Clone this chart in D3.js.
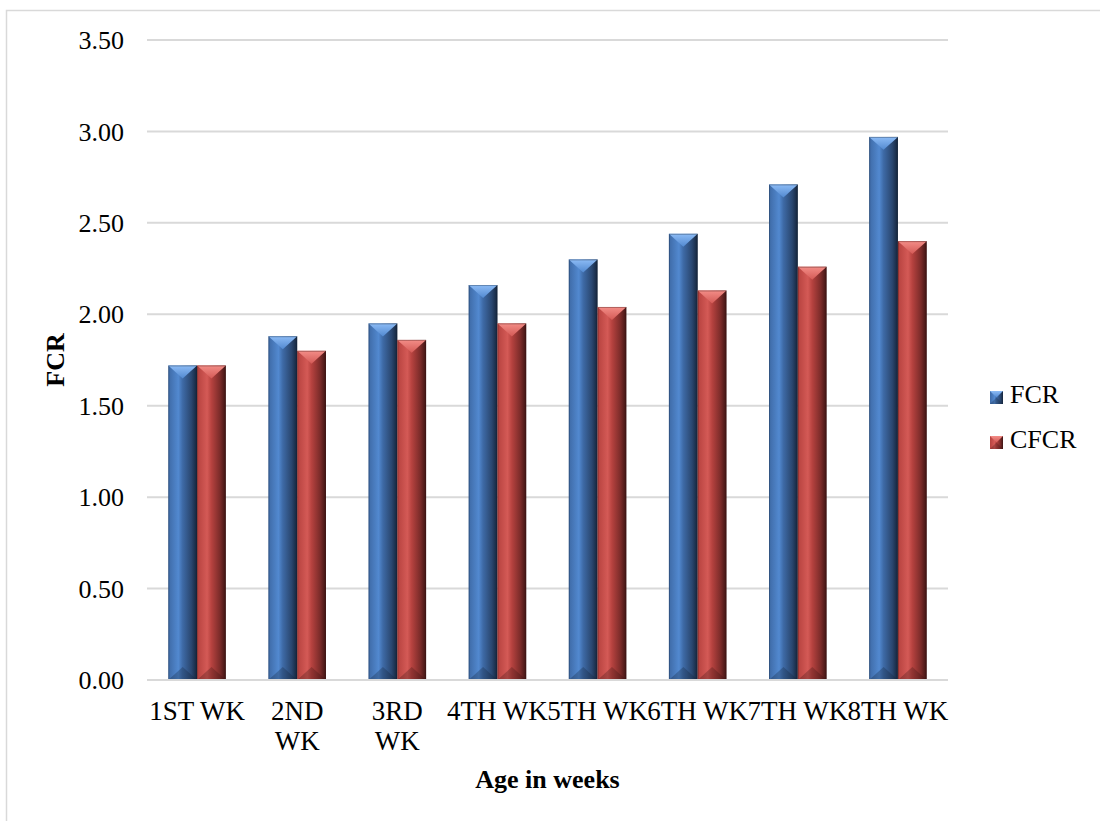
<!DOCTYPE html>
<html>
<head>
<meta charset="utf-8">
<script src="https://cdn.jsdelivr.net/npm/d3@7"></script>
<style>
  body { margin: 0; background: #fff; }
  svg { display: block; font-family: "Liberation Serif", "Times New Roman", serif; }
</style>
</head>
<body>
<svg id="chart" width="1100" height="821"></svg>
<script>
// data
const categories = ["1ST WK", "2ND\nWK", "3RD\nWK", "4TH WK", "5TH WK", "6TH WK", "7TH WK", "8TH WK"]
const fcr  = [1.72, 1.88, 1.95, 2.16, 2.30, 2.44, 2.71, 2.97]
const cfcr = [1.72, 1.80, 1.86, 1.95, 2.04, 2.13, 2.26, 2.40]
const seriesNames = ["FCR", "CFCR"]
const yTicks = [0, 0.5, 1, 1.5, 2, 2.5, 3, 3.5]

const colours = {
  FCR:  { light: "#7db0f2", mid: "#5289d0", base: "#3e6aa6", dark: "#15243a", top: "#8dbcf6" },
  CFCR: { light: "#ef7f7a", mid: "#d45a56", base: "#b6423f", dark: "#3d1413", top: "#f38d87" }
}

const svg = d3.select("#chart")
const fontSize = 26

const plotLeft = 147, plotRight = 948, plotTop = 40, plotBottom = 680

// outer border of the chart area
svg.append("rect")
  .attr("x", 6.5).attr("y", 10.5)
  .attr("width", 1200).attr("height", 900)
  .attr("fill", "none")
  .attr("stroke", "#d9d9d9")
  .attr("stroke-width", 1.5)

const y = d3.scaleLinear().domain([0, 3.5]).range([plotBottom, plotTop])
const x = d3.scaleBand().domain(categories).range([plotLeft, plotRight]).padding(0)
const groupWidth = x.bandwidth() * 0.575
const x1 = d3.scaleBand().domain(seriesNames)
  .range([(x.bandwidth() - groupWidth) / 2, (x.bandwidth() + groupWidth) / 2])
  .padding(0)

// gradients for the bevelled bars
const defs = svg.append("defs")
seriesNames.forEach(name => {
  const c = colours[name]
  const g = defs.append("linearGradient").attr("id", "grad-" + name)
    .attr("x1", "0%").attr("x2", "100%").attr("y1", "0%").attr("y2", "0%")
  g.append("stop").attr("offset", "0%").attr("stop-color", c.base)
  g.append("stop").attr("offset", "35%").attr("stop-color", c.mid)
  g.append("stop").attr("offset", "50%").attr("stop-color", c.base)
  g.append("stop").attr("offset", "80%").attr("stop-color", d3.interpolateRgb(c.base, c.dark)(0.5))
  g.append("stop").attr("offset", "100%").attr("stop-color", c.dark)

  const t = defs.append("linearGradient").attr("id", "top-" + name)
    .attr("x1", "0%").attr("x2", "0%").attr("y1", "0%").attr("y2", "100%")
  t.append("stop").attr("offset", "0%").attr("stop-color", c.top)
  t.append("stop").attr("offset", "100%").attr("stop-color", c.mid)
})

// gridlines
svg.append("g").selectAll("line")
  .data(yTicks.filter(d => d > 0))
  .join("line")
  .attr("x1", plotLeft).attr("x2", plotRight)
  .attr("y1", d => y(d)).attr("y2", d => y(d))
  .attr("stroke", "#d9d9d9")
  .attr("stroke-width", 2)

// y tick labels
svg.append("g").selectAll("text")
  .data(yTicks)
  .join("text")
  .attr("x", 124)
  .attr("y", d => y(d))
  .attr("dy", "0.35em")
  .attr("text-anchor", "end")
  .attr("font-size", fontSize)
  .attr("fill", "#000")
  .text(d => d3.format(".2f")(d))

// bars
const rows = categories.map((c, i) => ({ cat: c, values: [
  { key: "FCR", value: fcr[i] },
  { key: "CFCR", value: cfcr[i] }
]}))

const groups = svg.append("g").selectAll("g")
  .data(rows)
  .join("g")
  .attr("transform", d => `translate(${x(d.cat)},0)`)

const bars = groups.selectAll("g")
  .data(d => d.values)
  .join("g")

const bw = x1.bandwidth()
const bevel = bw * 0.45

bars.append("rect")
  .attr("x", d => x1(d.key))
  .attr("y", d => y(d.value))
  .attr("width", bw)
  .attr("height", d => y(0) - y(d.value))
  .attr("fill", d => `url(#grad-${d.key})`)

// top bevel
bars.append("path")
  .attr("d", d => {
    const l = x1(d.key), t = y(d.value)
    return `M${l},${t}L${l + bw},${t}L${l + bw / 2},${t + bevel}Z`
  })
  .attr("fill", d => `url(#top-${d.key})`)

// bottom bevel
bars.append("path")
  .attr("d", d => {
    const l = x1(d.key), b = y(0)
    return `M${l},${b}L${l + bw},${b}L${l + bw / 2},${b - bevel}Z`
  })
  .attr("fill", d => colours[d.key].dark)
  .attr("opacity", 0.3)

// bar outline edge
bars.append("rect")
  .attr("x", d => x1(d.key) + 0.5)
  .attr("y", d => y(d.value) + 0.5)
  .attr("width", bw - 1)
  .attr("height", d => y(0) - y(d.value) - 1)
  .attr("fill", "none")
  .attr("stroke", d => colours[d.key].dark)
  .attr("stroke-opacity", 0.35)
  .attr("stroke-width", 1)

// x axis line
svg.append("line")
  .attr("x1", plotLeft).attr("x2", plotRight)
  .attr("y1", y(0)).attr("y2", y(0))
  .attr("stroke", "#d9d9d9")
  .attr("stroke-width", 2)

// x tick labels
const xLabels = svg.append("g").selectAll("text")
  .data(categories)
  .join("text")
  .attr("x", d => x(d) + x.bandwidth() / 2)
  .attr("y", 720)
  .attr("text-anchor", "middle")
  .attr("font-size", 27)
  .attr("fill", "#000")

xLabels.selectAll("tspan")
  .data(d => d.split("\n").map(s => ({ s, parent: d })))
  .join("tspan")
  .attr("x", d => x(d.parent) + x.bandwidth() / 2)
  .attr("dy", (d, i) => i == 0 ? 0 : 30)
  .text(d => d.s)

// axis titles
svg.append("text")
  .attr("x", (plotLeft + plotRight) / 2)
  .attr("y", 788)
  .attr("text-anchor", "middle")
  .attr("font-size", fontSize)
  .attr("font-weight", "bold")
  .text("Age in weeks")

svg.append("text")
  .attr("transform", `translate(64,${(plotTop + plotBottom) / 2}) rotate(-90)`)
  .attr("text-anchor", "middle")
  .attr("font-size", fontSize)
  .attr("font-weight", "bold")
  .text("FCR")

// legend
const legend = svg.append("g").selectAll("g")
  .data(seriesNames)
  .join("g")
  .attr("transform", (d, i) => `translate(990,${391 + i * 45})`)

legend.append("rect")
  .attr("width", 13).attr("height", 13)
  .attr("fill", d => `url(#grad-${d})`)
legend.append("path")
  .attr("d", "M0,0L13,0L6.5,6.5Z")
  .attr("fill", d => `url(#top-${d})`)
legend.append("path")
  .attr("d", "M0,13L13,13L6.5,6.5Z")
  .attr("fill", d => colours[d].dark)
  .attr("opacity", 0.3)

legend.append("text")
  .attr("x", 20)
  .attr("y", 12)
  .attr("font-size", fontSize)
  .attr("fill", "#000")
  .text(d => d)
</script>
</body>
</html>
